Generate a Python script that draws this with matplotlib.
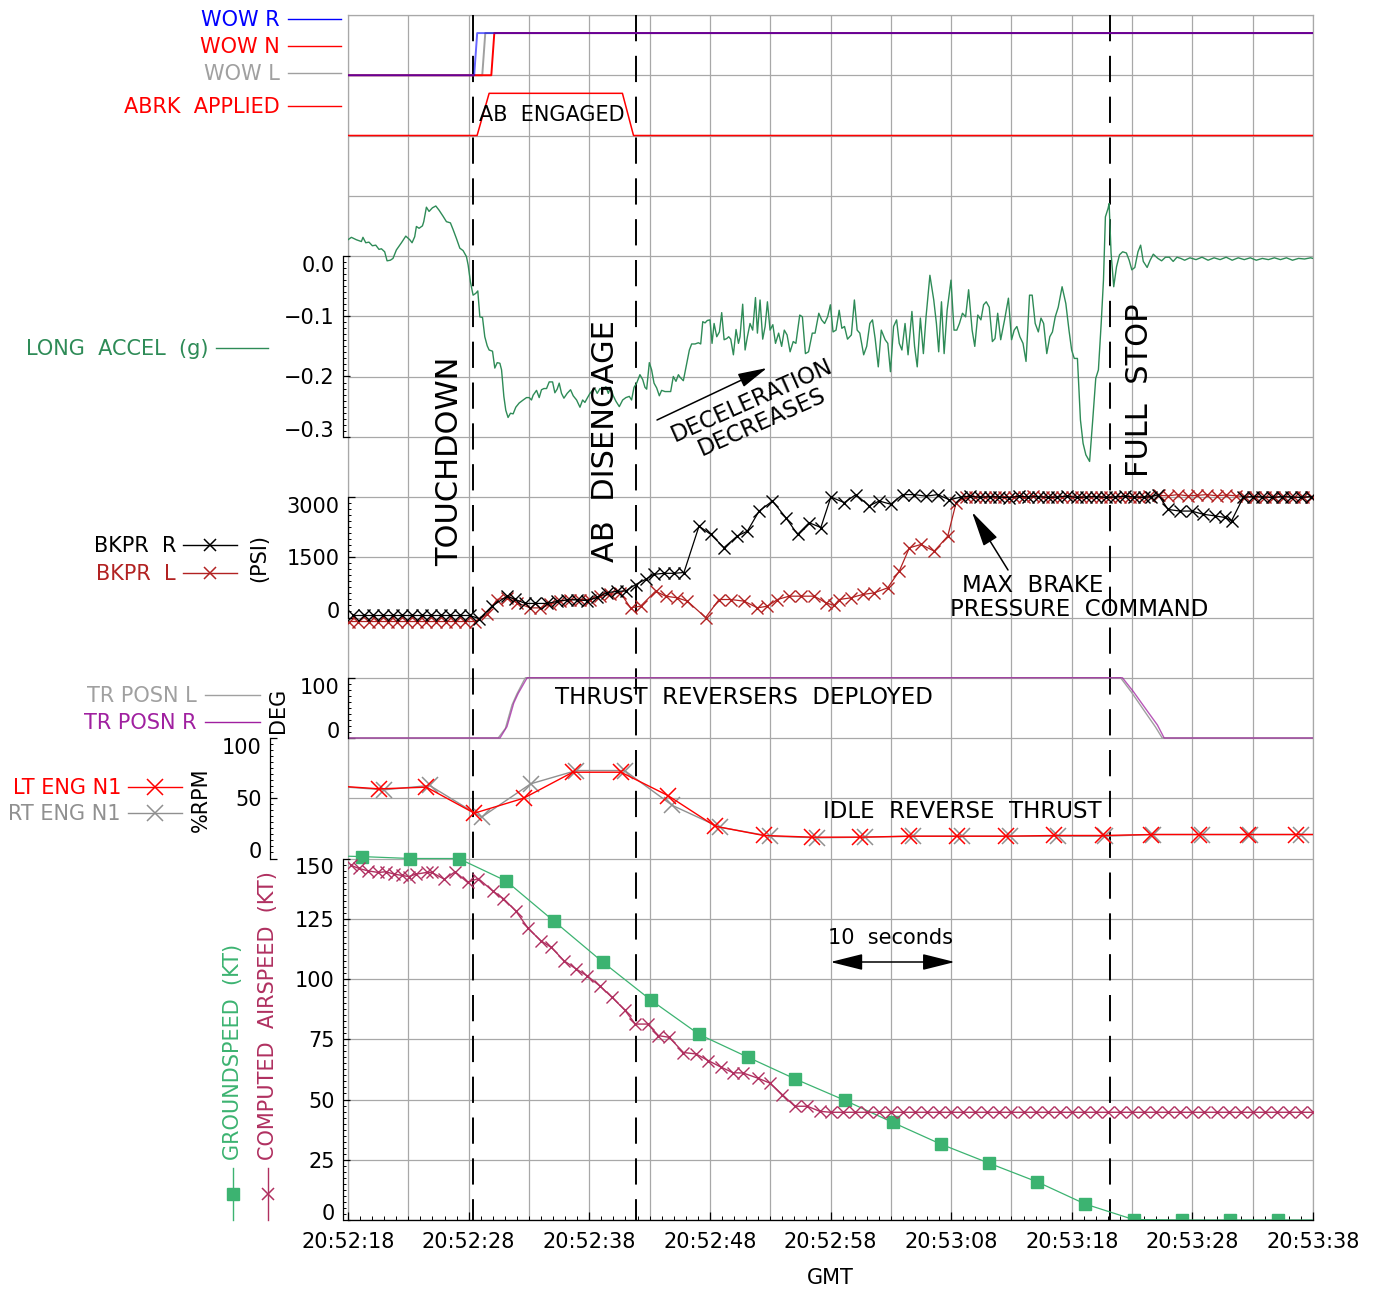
import matplotlib
matplotlib.use('Agg')
import matplotlib.pyplot as plt
from matplotlib.lines import Line2D
import numpy as np

W, H = 1376, 1291
plt.rcParams['font.family'] = ['DejaVu Sans']

# ---------------- data (time = seconds after 20:52:00 GMT) ----------------
t_touchdown = 28.4
t_ab_off = 41.85
t_stop = 81.2

wow_r_t = [18.0, 28.46, 28.71, 98.0]
wow_r = [0, 0, 1, 1]
wow_n_t = [18.0, 29.88, 30.13, 98.0]
wow_n = [0, 0, 1, 1]
wow_l_t = [18.0, 29.13, 29.38, 98.0]
wow_l = [0, 0, 1, 1]
abrk_t = [18.0, 28.7, 29.7, 40.75, 41.67, 98.0]
abrk = [0, 0, 1, 1, 0, 0]

acc_t = [18.00, 18.28, 18.69, 19.11, 19.24, 19.47, 19.74, 20.02, 20.30, 20.57, 20.77, 21.04, 21.24, 21.51,
         21.73, 22.01, 22.43, 22.79, 23.12, 23.31, 23.53, 23.67, 23.89, 24.17, 24.28, 24.50, 24.72, 25.00,
         25.28, 25.55, 25.88, 26.16, 26.49, 26.71, 26.99, 27.27, 27.54, 27.82, 27.96, 28.15, 28.37, 28.59,
         28.76, 28.93, 29.15, 29.34, 29.54, 29.70, 29.98, 30.17, 30.37, 30.59, 30.73, 30.92, 31.08, 31.27,
         31.47, 31.69, 31.91, 32.19, 32.52, 32.80, 33.02, 33.21, 33.35, 33.63, 33.85, 34.04, 34.24, 34.46,
         34.68, 34.96, 35.15, 35.34, 35.51, 35.70, 35.90, 36.17, 36.45, 36.67, 36.95, 37.23, 37.45, 37.64,
         37.83, 38.06, 38.28, 38.47, 38.66, 38.89, 39.11, 39.38, 39.58, 39.77, 39.99, 40.21, 40.49, 40.77,
         41.04, 41.32, 41.51, 41.71, 41.93, 42.20, 42.43, 42.62, 42.76, 42.98, 43.17, 43.37, 43.59, 43.81,
         44.00, 44.28, 44.56, 44.75, 44.97, 45.19, 45.39, 45.52, 45.80, 46.08, 46.30, 46.49, 46.77, 47.05,
         47.24, 47.41, 47.60, 47.79, 48.01, 48.18, 48.35, 48.57, 48.79, 48.98, 49.18, 49.40, 49.56, 49.73,
         49.95, 50.17, 50.37, 50.50, 50.72, 50.92, 51.11, 51.33, 51.55, 51.78, 51.94, 52.16, 52.38, 52.58,
         52.77, 52.99, 53.22, 53.44, 53.70, 53.95, 54.17, 54.40, 54.65, 54.91, 55.13, 55.45, 55.67, 55.92,
         56.18, 56.49, 56.72, 57.03, 57.26, 57.51, 57.76, 57.99, 58.21, 58.46, 58.72, 58.94, 59.16, 59.41,
         59.73, 59.98, 60.21, 60.43, 60.75, 61.00, 61.26, 61.48, 61.70, 61.96, 62.21, 62.53, 62.75, 62.97,
         63.23, 63.48, 63.70, 63.92, 64.18, 64.43, 64.75, 64.97, 65.19, 65.45, 65.70, 65.92, 66.24, 66.56,
         66.78, 66.97, 67.20, 67.42, 67.67, 67.99, 68.24, 68.47, 68.69, 68.94, 69.20, 69.45, 69.74, 69.96,
         70.21, 70.47, 70.69, 70.91, 71.16, 71.42, 71.64, 71.86, 72.11, 72.43, 72.75, 73.01, 73.23, 73.45,
         73.70, 73.96, 74.21, 74.50, 74.72, 74.97, 75.23, 75.45, 75.67, 75.93, 76.18, 76.40, 76.63, 76.88,
         77.20, 77.51, 77.77, 77.99, 78.21, 78.47, 78.72, 78.94, 79.17, 79.48, 79.74, 79.99, 80.21, 80.44,
         80.63, 80.79, 81.01, 81.10, 81.26, 81.48, 81.71, 81.96, 82.22, 82.53, 82.76, 82.98, 83.23, 83.49,
         83.71, 83.93, 84.25, 84.50, 84.76, 85.14, 85.45, 85.77, 86.09, 86.41, 86.72, 87.04, 87.36, 87.80,
         88.30, 88.80, 89.30, 89.80, 90.30, 90.80, 91.30, 91.80, 92.30, 92.80, 93.30, 93.80, 94.30, 94.80,
         95.30, 95.80, 96.30, 96.80, 97.30, 97.80, 98.00]
acc = [0.027, 0.031, 0.027, 0.024, 0.031, 0.022, 0.023, 0.017, 0.018, 0.011, 0.012, 0.007, -0.008, -0.007,
       -0.004, 0.010, 0.022, 0.033, 0.027, 0.022, 0.032, 0.049, 0.046, 0.050, 0.057, 0.081, 0.074, 0.080,
       0.083, 0.076, 0.066, 0.057, 0.055, 0.044, 0.029, 0.013, 0.009, -0.001, -0.015, -0.043, -0.065, -0.062,
       -0.058, -0.101, -0.102, -0.134, -0.149, -0.156, -0.158, -0.186, -0.177, -0.178, -0.189, -0.233, -0.256, -0.268,
       -0.261, -0.262, -0.251, -0.244, -0.239, -0.235, -0.235, -0.239, -0.231, -0.223, -0.235, -0.222, -0.220, -0.220,
       -0.209, -0.209, -0.227, -0.221, -0.211, -0.228, -0.236, -0.228, -0.222, -0.232, -0.239, -0.251, -0.239, -0.243,
       -0.236, -0.228, -0.223, -0.220, -0.228, -0.220, -0.222, -0.217, -0.228, -0.218, -0.232, -0.241, -0.250, -0.239,
       -0.235, -0.233, -0.239, -0.218, -0.211, -0.197, -0.205, -0.218, -0.221, -0.177, -0.189, -0.211, -0.219, -0.232,
       -0.223, -0.225, -0.225, -0.225, -0.200, -0.208, -0.197, -0.201, -0.207, -0.178, -0.156, -0.146, -0.146, -0.144,
       -0.146, -0.109, -0.111, -0.107, -0.106, -0.145, -0.112, -0.134, -0.126, -0.094, -0.139, -0.137, -0.134, -0.138,
       -0.164, -0.122, -0.145, -0.134, -0.080, -0.156, -0.134, -0.112, -0.123, -0.069, -0.128, -0.073, -0.138, -0.117,
       -0.076, -0.123, -0.114, -0.145, -0.128, -0.150, -0.123, -0.131, -0.159, -0.142, -0.145, -0.098, -0.101, -0.162,
       -0.159, -0.128, -0.128, -0.095, -0.106, -0.112, -0.101, -0.081, -0.126, -0.123, -0.090, -0.120, -0.117, -0.138,
       -0.131, -0.073, -0.123, -0.128, -0.164, -0.150, -0.112, -0.106, -0.137, -0.184, -0.123, -0.139, -0.145, -0.192,
       -0.117, -0.106, -0.145, -0.156, -0.112, -0.164, -0.092, -0.150, -0.184, -0.103, -0.162, -0.101, -0.032, -0.073,
       -0.112, -0.159, -0.076, -0.162, -0.090, -0.040, -0.123, -0.123, -0.112, -0.095, -0.101, -0.056, -0.123, -0.150,
       -0.098, -0.106, -0.081, -0.076, -0.085, -0.142, -0.137, -0.095, -0.139, -0.106, -0.070, -0.139, -0.123, -0.117,
       -0.134, -0.145, -0.175, -0.065, -0.065, -0.112, -0.126, -0.103, -0.112, -0.162, -0.134, -0.126, -0.101, -0.085,
       -0.051, -0.079, -0.123, -0.156, -0.170, -0.170, -0.272, -0.311, -0.330, -0.341, -0.272, -0.203, -0.189, -0.112,
       -0.040, 0.065, 0.079, 0.087, 0.005, -0.051, -0.018, 0.002, 0.007, 0.005, -0.007, -0.023, -0.019, 0.007,
       0.018, -0.009, -0.019, -0.007, 0.003, -0.004, -0.008, -0.002, -0.002, -0.009, -0.002, -0.004, -0.007, -0.003,
       -0.006, -0.002, -0.007, -0.003, -0.006, -0.002, -0.007, -0.003, -0.006, -0.003, -0.007, -0.004, -0.006, -0.003,
       -0.006, -0.003, -0.007, -0.004, -0.005, -0.003, -0.004]

bkr_t = [18.44, 19.33, 20.10, 20.94, 21.71, 22.51, 23.29, 24.12, 24.89, 25.70, 26.47, 27.25, 28.08, 28.90,
         29.93, 31.18, 31.87, 32.70, 33.53, 34.50, 35.33, 36.16, 36.99, 37.82, 38.65, 39.48, 40.31, 41.01,
         41.84, 42.67, 43.36, 44.19, 45.02, 45.85, 47.10, 48.07, 49.17, 50.28, 51.11, 52.08, 53.19, 54.30,
         55.27, 56.23, 57.20, 58.03, 59.14, 60.10, 61.21, 62.04, 63.00, 63.98, 64.95, 65.92, 66.89, 67.86,
         68.83, 69.60, 70.40, 71.20, 72.00, 72.80, 73.60, 74.40, 75.20, 76.00, 76.80, 77.60, 78.40, 79.20,
         80.00, 80.80, 81.60, 82.40, 83.20, 84.00, 84.60, 85.16, 85.99, 86.96, 87.93, 88.90, 89.87, 90.70,
         91.25, 92.22, 93.00, 93.80, 94.60, 95.40, 96.20, 97.00, 97.80]
bkr = [50, 50, 50, 50, 50, 50, 50, 50, 50, 50, 50, 50, 50, -30,
       280, 530, 450, 350, 350, 350, 400, 440, 440, 420, 500, 620, 650, 660,
       820, 950, 1075, 1100, 1100, 1120, 2275, 2070, 1740, 2030, 2150, 2650, 2900, 2485,
       2070, 2360, 2240, 3000, 2860, 3060, 2780, 2900, 2820, 3060, 3060, 3020, 3060, 2930,
       3000, 3020, 2990, 3010, 3000, 2980, 3020, 3000, 3010, 2990, 3000, 3020, 2990, 3000,
       3010, 2990, 3000, 3020, 3000, 2990, 3010, 3060, 2690, 2650, 2650, 2570, 2530, 2490,
       2410, 2990, 3010, 3000, 2990, 3010, 3000, 2990, 3010]

bkl_t = [18.05, 18.85, 19.70, 20.50, 21.30, 22.10, 22.90, 23.70, 24.50, 25.30, 26.10, 26.90, 27.70, 28.50,
         29.52, 30.35, 31.18, 32.01, 33.12, 33.95, 34.78, 35.61, 36.44, 37.27, 38.10, 38.93, 39.76, 40.59,
         41.42, 42.25, 43.50, 44.33, 45.30, 46.13, 47.65, 48.76, 49.73, 50.84, 51.94, 52.77, 53.60, 54.57,
         55.54, 56.65, 57.62, 58.30, 58.72, 59.69, 60.66, 61.63, 62.74, 63.70, 64.54, 65.50, 66.60, 67.72,
         68.41, 69.20, 70.00, 70.80, 71.60, 72.40, 73.20, 74.00, 74.80, 75.60, 76.40, 77.20, 78.00, 78.80,
         79.60, 80.40, 81.20, 82.00, 82.80, 83.60, 84.40, 85.20, 86.00, 86.80, 87.60, 88.40, 89.20, 90.00,
         90.80, 91.60, 92.40, 93.20, 94.00, 94.80, 95.60, 96.40, 97.20, 97.90]
bkl = [-100, -100, -100, -100, -100, -100, -100, -100, -100, -100, -100, -100, -100, -100,
       75, 448, 490, 365, 240, 240, 324, 407, 448, 448, 448, 531, 573, 614,
       240, 282, 656, 531, 490, 407, 0, 448, 448, 407, 240, 282, 448, 531,
       531, 531, 365, 300, 448, 490, 573, 614, 739, 1154, 1735, 1818, 1652, 2025,
       2855, 2990, 3010, 3000, 2990, 3010, 3000, 2990, 3020, 3000, 2990, 3010, 3000, 2990,
       3010, 3000, 2990, 3010, 3000, 3000, 3020, 3040, 3030, 3060, 3030, 3040, 3060, 3030,
       3050, 3030, 3010, 3000, 3010, 2990, 3010, 3000, 2990, 3010]

trl_t = [18.0, 30.45, 31.05, 31.6, 32.0, 32.7, 82.05, 82.95, 84.05, 84.95, 85.5, 98.0]
trl = [0, 0, 16, 55, 73, 100, 100, 76, 44, 18, 0, 0]
trr_t = [18.0, 30.6, 31.18, 31.74, 32.11, 32.85, 82.2, 83.11, 84.2, 85.1, 85.66, 98.0]
trr = [0, 0, 19, 58, 74, 100, 100, 77, 46.5, 21.6, 0, 0]

n1l_t = [16.6, 20.60, 24.50, 28.47, 32.55, 36.63, 40.63, 44.53, 48.44, 52.45, 56.47, 60.48, 64.50,
         68.51, 72.53, 76.54, 80.56, 84.57, 88.58, 92.60, 96.61, 100.6]
n1l = [60.5, 57.8, 59.2, 37.6, 50.0, 71.6, 71.6, 52.2, 26.8, 19.1, 17.7, 17.7, 18.5,
       18.5, 18.5, 19.1, 19.1, 19.9, 19.9, 19.9, 19.9, 19.9]
n1r_t = [16.9, 20.98, 24.77, 29.07, 33.15, 36.93, 40.93, 44.90, 48.80, 53.00, 56.90, 60.85, 64.86,
         68.88, 72.90, 76.90, 80.74, 84.75, 88.77, 92.78, 96.98, 100.9]
n1r = [60.0, 57.0, 60.6, 34.3, 62.0, 73.0, 73.0, 44.0, 26.0, 18.5, 17.2, 17.7, 18.5,
       18.5, 18.5, 18.5, 18.5, 19.9, 19.9, 19.9, 19.9, 19.9]

gs_t = [15.12, 19.12, 23.18, 27.17, 31.10, 35.10, 39.15, 43.15, 47.11, 51.13, 55.08, 59.17, 63.15,
        67.14, 71.13, 75.15, 79.13, 83.12, 87.10, 91.13, 95.11, 99.10]
gs = [151.3, 150.8, 150.0, 150.0, 140.7, 123.9, 106.9, 91.1, 77.0, 67.6, 58.5, 49.7, 40.5,
      31.5, 23.6, 15.8, 6.6, 0.2, 0.0, 0.0, 0.0, 0.0]

cas_t = [18.24, 18.89, 19.63, 20.51, 21.11, 21.85, 22.45, 23.03, 23.62, 24.51, 24.95, 25.99, 26.88,
         27.91, 28.80, 29.98, 30.87, 31.90, 32.94, 33.98, 34.86, 35.90, 36.93, 37.82, 38.86, 39.89,
         40.93, 41.82, 42.85, 43.74, 44.63, 45.81, 46.85, 47.88, 48.90, 49.92, 50.75, 51.95, 52.98,
         54.01, 55.04, 56.08, 57.11, 58.00, 59.0, 60.0, 61.0, 62.0, 63.0, 64.0, 65.0, 66.0, 67.0,
         68.0, 69.0, 70.0, 71.0, 72.0, 73.0, 74.0, 75.0, 76.0, 77.0, 78.0, 79.0, 80.0, 81.0, 82.0,
         83.0, 84.0, 85.0, 86.0, 87.0, 88.0, 89.0, 90.0, 91.0, 92.0, 93.0, 94.0, 95.0, 96.0, 97.0, 98.0]
cas = [147.2, 145.9, 144.9, 144.2, 144.5, 143.5, 143.0, 142.5, 143.5, 144.2, 144.2, 141.4, 144.5,
       140.1, 141.7, 136.6, 133.4, 128.3, 121.0, 115.9, 113.1, 107.6, 104.1, 101.3, 97.2, 92.4,
       87.2, 81.3, 81.3, 76.5, 75.8, 69.5, 68.9, 66.1, 63.5, 61.1, 61.0, 58.9, 56.8,
       52.0, 47.2, 47.2, 45.1, 44.7, 44.7, 44.7, 44.7, 44.7, 44.7, 44.7, 44.7, 44.7, 44.7,
       44.7, 44.7, 44.7, 44.7, 44.7, 44.7, 44.7, 44.7, 44.7, 44.7, 44.7, 44.7, 44.7, 44.7, 44.7,
       44.7, 44.7, 44.7, 44.7, 44.7, 44.7, 44.7, 44.7, 44.7, 44.7, 44.7, 44.7, 44.7, 44.7, 44.7, 44.7]

# ---------------- layout ----------------
fig = plt.figure(figsize=(W / 100, H / 100), dpi=100)
L, R, T, B = 348, 1313, 15, 1220
rect = [L / W, 1 - B / H, (R - L) / W, (B - T) / H]
T0, T1 = 18, 98
NROWS = 20
FS = 15
PT = 0.72   # points per pixel at 100 dpi


def fx(x):
    return x / W


def fy(y):
    return 1 - y / H


ax = fig.add_axes(rect)
ax.set_xlim(T0, T1)
ax.set_ylim(0, NROWS)
ax.set_xticks(np.arange(T0, T1 + 1, 5))
ax.set_yticks(np.arange(0, NROWS + 1))
ax.grid(True, color='#a8a8a8', lw=0.9)
ax.tick_params(length=0, labelbottom=False, labelleft=False)
for s in ax.spines.values():
    s.set_color('#a8a8a8')
    s.set_linewidth(0.9)

for te in (t_touchdown, t_ab_off, t_stop):
    ax.plot([te, te], [NROWS, 0], color='k', lw=1.4, ls=(0, (13.5, 7.5)), zorder=3)


def panel(r0, r1, v0, v1):
    a = fig.add_axes(rect, facecolor='none')
    k = (v1 - v0) / (r1 - r0)
    a.set_ylim(v0 - r0 * k, v0 + (NROWS - r0) * k)
    a.set_xlim(T0, T1)
    for s in a.spines.values():
        s.set_visible(False)
    a.tick_params(which='both', bottom=False, labelbottom=False, left=False, labelleft=False)
    return a


def yaxis(a, lo, hi, ticks, labels, minor, offset_px):
    sp = a.spines['left']
    sp.set_visible(True)
    sp.set_bounds(lo, hi)
    sp.set_position(('outward', offset_px * PT))
    sp.set_linewidth(0.9)
    a.set_yticks(ticks)
    a.set_yticklabels(labels)
    a.set_yticks(np.arange(lo, hi + minor / 2, minor), minor=True)
    a.tick_params(axis='y', which='major', left=True, labelleft=True, direction='in',
                  length=5, width=0.9, pad=6, labelsize=FS)
    a.tick_params(axis='y', which='minor', left=True, direction='in', length=2.5, width=0.7)
    tk = a.yaxis.get_major_ticks()
    tk[0].label1.set_va('baseline')
    tk[-1].label1.set_va('top')


# discrete signals
ax_wow = panel(19, 19.7, 0, 1)
ax_wow.plot(wow_l_t, wow_l, color='#a0a0a0', lw=1.4)
ax_wow.plot(wow_n_t, wow_n, color='#ff0000', lw=1.4)
ax_wow.plot(wow_r_t, wow_r, color='#0000ff', lw=1.4, alpha=0.6)

ax_ab = panel(18, 18.7, 0, 1)
ax_ab.plot(abrk_t, abrk, color='#ff0000', lw=1.1)

# longitudinal acceleration
ax_acc = panel(13, 16, -0.3, 0.0)
ax_acc.plot(acc_t, acc, color='#2e8b57', lw=1.0)
yaxis(ax_acc, -0.3, 0.0, [-0.3, -0.2, -0.1, 0.0],
      ['\u22120.3', '\u22120.2', '\u22120.1', '0.0'], 0.01, 5)

# brake pressure
ax_bk = panel(10, 12, 0, 3000)
ax_bk.plot(bkl_t, bkl, color='#b22222', lw=0.9, marker='x', ms=9, mew=1.0)
ax_bk.plot(bkr_t, bkr, color='k', lw=0.9, marker='x', ms=9, mew=1.0)
yaxis(ax_bk, 0, 3000, [0, 1500, 3000], ['0', '1500', '3000'], 150, 0)

# thrust reverser position
ax_tr = panel(8, 9, 0, 100)
ax_tr.plot(trl_t, trl, color='#a0a0a0', lw=1.0)
ax_tr.plot(trr_t, trr, color='#a020a0', lw=1.0, alpha=0.75)
yaxis(ax_tr, 0, 100, [0, 100], ['0', '100'], 10, 0)

# engine N1
ax_n1 = panel(6, 8, 0, 100)
ax_n1.plot(n1r_t, n1r, color='#909090', lw=1.0, marker='x', ms=11, mew=1.1)
ax_n1.plot(n1l_t, n1l, color='#ff0000', lw=1.0, marker='x', ms=11, mew=1.1)
yaxis(ax_n1, 0, 100, [0, 50, 100], ['0', '50', '100'], 5, 78)

# speeds
ax_sp = panel(0, 6, 0, 150)
ax_sp.plot(gs_t, gs, color='#3cb371', lw=0.9, marker='s', ms=9)
ax_sp.plot(cas_t, cas, color='#b03060', lw=1.0, marker='x', ms=9, mew=1.0)
yaxis(ax_sp, 0, 150, [0, 25, 50, 75, 100, 125, 150],
      ['0', '25', '50', '75', '100', '125', '150'], 2.5, 5)
ax_sp.spines['bottom'].set_visible(True)
ax_sp.spines['bottom'].set_linewidth(0.9)
xt = np.arange(T0, T1 + 1, 10)
ax_sp.set_xticks(xt)
ax_sp.set_xticklabels(['20:%02d:%02d' % divmod(52 * 60 + int(s), 60) for s in xt])
ax_sp.set_xticks(np.arange(T0, T1 + 1, 1), minor=True)
ax_sp.tick_params(axis='x', which='major', bottom=True, labelbottom=True, direction='in',
                  length=6, width=0.9, pad=9, labelsize=FS)
ax_sp.tick_params(axis='x', which='minor', bottom=True, direction='in', length=3, width=0.7)
fig.text(fx(830), fy(1278), 'GMT', ha='center', va='center', fontsize=FS)


# ---------------- left-side labels ----------------
def entry(text, color, y, xr, x0, x1, marker=None, ms=9):
    fig.text(fx(xr), fy(y + 1), text, color=color, ha='right', va='center', fontsize=FS)
    fig.add_artist(Line2D([fx(x0), fx(x1)], [fy(y), fy(y)], color=color, lw=1.0,
                          transform=fig.transFigure))
    if marker:
        fig.add_artist(Line2D([fx((x0 + x1) / 2)], [fy(y)], marker=marker, ms=ms, mew=1.1,
                              color=color, transform=fig.transFigure))


entry('WOW R', '#0000ff', 19, 280, 288, 341)
entry('WOW N', '#ff0000', 46, 280, 288, 341)
entry('WOW L', '#a0a0a0', 73, 280, 288, 341)
entry('ABRK  APPLIED', '#ff0000', 106, 280, 288, 341)
entry('LONG  ACCEL  (g)', '#2e8b57', 348, 208, 216, 268)
entry('BKPR  R', 'k', 545, 176, 183, 237, 'x', 9)
entry('BKPR  L', '#b22222', 573, 176, 183, 237, 'x', 9)
fig.text(fx(259), fy(558), '(PSI)', rotation=90, ha='center', va='center', fontsize=FS)
entry('TR POSN L', '#a0a0a0', 695, 197, 205, 260)
entry('TR POSN R', '#a020a0', 722, 197, 205, 260)
fig.text(fx(278), fy(710), 'DEG', rotation=90, ha='center', va='center', fontsize=FS)
entry('LT ENG N1', '#ff0000', 787, 121, 128, 182, 'x', 11)
entry('RT ENG N1', '#909090', 813, 121, 128, 182, 'x', 11)
fig.text(fx(201), fy(800), '%RPM', rotation=90, ha='center', va='center', fontsize=FS)

fig.text(fx(233), fy(1160), 'GROUNDSPEED  (KT)', rotation=90, ha='center', va='bottom',
         fontsize=FS, color='#3cb371')
fig.text(fx(268), fy(1160), 'COMPUTED  AIRSPEED  (KT)', rotation=90, ha='center', va='bottom',
         fontsize=FS, color='#b03060')
fig.add_artist(Line2D([fx(233), fx(233)], [fy(1168), fy(1220)], color='#3cb371', lw=1.0,
                      transform=fig.transFigure))
fig.add_artist(Line2D([fx(233)], [fy(1194)], marker='s', ms=9, color='#3cb371',
                      transform=fig.transFigure))
fig.add_artist(Line2D([fx(268), fx(268)], [fy(1168), fy(1220)], color='#b03060', lw=1.0,
                      transform=fig.transFigure))
fig.add_artist(Line2D([fx(268)], [fy(1194)], marker='x', ms=9, mew=1.1, color='#b03060',
                      transform=fig.transFigure))

# ---------------- annotations ----------------
fig.text(fx(450), fy(461), 'TOUCHDOWN', rotation=90, ha='center', va='center', fontsize=22)
fig.text(fx(605), fy(441), 'AB  DISENGAGE', rotation=90, ha='center', va='center', fontsize=22)
fig.text(fx(1140), fy(390), 'FULL  STOP', rotation=90, ha='center', va='center', fontsize=22)
fig.text(fx(552), fy(115), 'AB  ENGAGED', ha='center', va='center', fontsize=FS)
fig.text(fx(757), fy(411), 'DECELERATION\nDECREASES', rotation=24, ha='center', va='center',
         multialignment='center', fontsize=16.5, linespacing=1.05)
fig.text(fx(962), fy(585), 'MAX  BRAKE', ha='left', va='center', fontsize=16.5)
fig.text(fx(950), fy(609), 'PRESSURE  COMMAND', ha='left', va='center', fontsize=16.5)
fig.text(fx(744), fy(697), 'THRUST  REVERSERS  DEPLOYED', ha='center', va='center', fontsize=16.5)
fig.text(fx(962), fy(812), 'IDLE  REVERSE  THRUST', ha='center', va='center', fontsize=16.5)
fig.text(fx(890), fy(938), '10  seconds', ha='center', va='center', fontsize=FS)

head = dict(color='k', lw=1.1, mutation_scale=20, shrinkA=0, shrinkB=0)
ax_sp.annotate('', xy=(fx(767), fy(368)), xytext=(fx(657), fy(420)), xycoords='figure fraction',
               arrowprops=dict(arrowstyle='-|>,head_length=0.9,head_width=0.22', **head))
ax_sp.annotate('', xy=(fx(972), fy(512)), xytext=(fx(1008), fy(570)), xycoords='figure fraction',
               arrowprops=dict(arrowstyle='-|>,head_length=1.1,head_width=0.25', **head))
ax_sp.annotate('', xy=(68.3, fy(962)), xytext=(58.0, fy(962)), xycoords=('data', 'figure fraction'),
               arrowprops=dict(arrowstyle='<|-|>,head_length=1.0,head_width=0.25', **head))

fig.savefig('out.png', dpi=100)
